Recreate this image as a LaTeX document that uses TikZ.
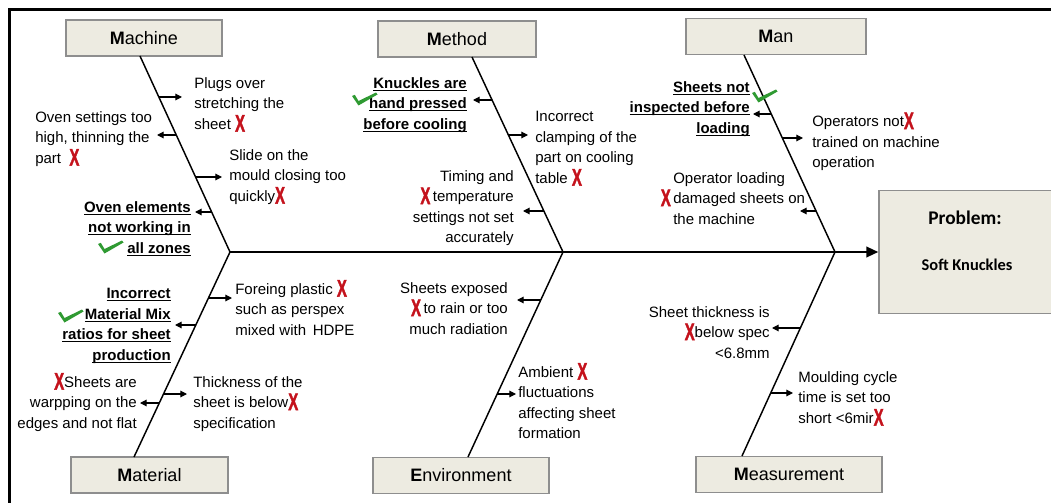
\documentclass[tikz,border=0pt]{standalone}
\usepackage{fontspec}
\setmainfont{Liberation Sans}
\newfontfamily\calfont{Carlito}
\newfontfamily\crossfont[FakeBold=2.2]{Liberation Sans}
\usepackage{graphicx}
\usetikzlibrary{arrows.meta,calc}

\definecolor{boxfill}{HTML}{EDEBE1}
\definecolor{boxline}{HTML}{8E8E8E}
\definecolor{crossred}{HTML}{C4121C}
\definecolor{tickgreen}{HTML}{2F9A32}

% red cross mark set inline with the text
\newcommand\nox{\raisebox{-1.8pt}{\smash{\textcolor{crossred}{\scalebox{0.62}[1]{\crossfont\fontsize{18pt}{18pt}\selectfont\bfseries X}}}}}
% underline at a fixed distance below the baseline
\newcommand\keyline[1]{\setbox0\hbox{#1}\rlap{\rule[-2pt]{\wd0}{0.95pt}}\box0}

\begin{document}
\begin{tikzpicture}[x=0.75pt,y=-0.75pt,
  catbox/.style={draw=boxline,fill=boxfill,line width=1.1pt,
    minimum width=#1*0.75pt,minimum height=27pt,inner sep=0pt,
    font=\fontsize{13.5pt}{16pt}\selectfont},
  causeL/.style={anchor=north west,align=left,inner sep=0pt,
    font=\fontsize{11.25pt}{15.4pt}\selectfont},
  causeR/.style={anchor=north east,align=right,inner sep=0pt,
    font=\fontsize{11.25pt}{15.4pt}\selectfont},
  keyR/.style={causeR,font=\fontsize{11.25pt}{15.4pt}\selectfont\bfseries},
  bone/.style={line width=1.1pt},
  spine/.style={line width=1.5pt,-{Triangle[length=9pt,width=8pt]}},
  cause/.style={line width=0.85pt,-{Triangle[length=5pt,width=5pt]}},
  greentick/.pic={\fill[tickgreen] (0,3) -- (2.8,1.8) -- (6.5,8) -- (24,-0.5) -- (25.5,1.5) -- (6.5,12.5) -- cycle;}
]
\useasboundingbox (0,0) rectangle (1051,503);

% outer frame
\draw[line width=2pt] (9.5,9.5) rectangle (1070,520);

% effect box
\node[draw=boxline,fill=boxfill,line width=1.1pt,minimum width={182*0.75pt},
  minimum height={123*0.75pt},inner sep=0pt] (problem) at (970,252) {};
\node[font=\calfont\bfseries\fontsize{14.5pt}{16pt}\selectfont,inner sep=0pt] (ptitle) at (965,218) {Problem:};
\node[font=\calfont\bfseries\fontsize{12.3pt}{14pt}\selectfont,inner sep=0pt] (pname) at (967,265) {Soft Knuckles};

% category boxes
\node[catbox=156] (machine) at (144,38) {\textbf{M}achine};
\node[catbox=158] (method) at (457,39) {\textbf{M}ethod};
\node[catbox=180] (man) at (776,36.5) {\textbf{M}an};
\node[catbox=157] (material) at (149.5,475) {\textbf{M}aterial};
\node[catbox=176] (environment) at (461,475.5) {\textbf{E}nvironment};
\node[catbox=186] (measurement) at (789,474.5) {\textbf{M}easurement};

% joints on the spine and feet of the bones
\coordinate (j1) at (230,252);
\coordinate (j2) at (563,252);
\coordinate (j3) at (835,252);
\coordinate (machineleg) at (140,56);
\coordinate (methodleg) at (472,57);
\coordinate (manleg) at (744,55);
\coordinate (materialleg) at (134,457);
\coordinate (environmentleg) at (468,457);
\coordinate (measurementleg) at (742,456);

\draw[spine] (j1) -- (problem.west);
\draw[bone] (machineleg) -- (j1);
\draw[bone] (methodleg) -- (j2);
\draw[bone] (manleg) -- (j3);
\draw[bone] (materialleg) -- (j1);
\draw[bone] (environmentleg) -- (j2);
\draw[bone] (measurementleg) -- (j3);

% ---- Machine ----
\node[causeL] (mc1) at (194,77) {Plugs over\\stretching the\\sheet \nox};
\node[causeL] (mc2) at (35,111) {Oven settings too\\high, thinning the\\part \ \nox};
\node[causeL] (mc3) at (229,149) {Slide on the\\mould closing too\\quickly\nox};
\node[keyR] (mc4) at (191,201) {\keyline{Oven elements}\\\keyline{not working in}\\\keyline{all zones}};
\coordinate (bm1) at (158.8,97);  \coordinate (am1) at (182,97);
\coordinate (bm2) at (176.3,135); \coordinate (am2) at (157,135);
\coordinate (bm3) at (195.6,177); \coordinate (am3) at (222,177);
\coordinate (bm4) at (211.6,212); \coordinate (am4) at (195,212);
\draw[cause] (bm1) -- (am1);
\draw[cause] (bm2) -- (am2);
\draw[cause] (bm3) -- (am3);
\draw[cause] (bm4) -- (am4);
\pic at (98,241) {greentick};

% ---- Method ----
\node[keyR] (me1) at (467,77) {\keyline{Knuckles are}\\\keyline{hand pressed}\\\keyline{before cooling}};
\node[causeL] (me2) at (535,111) {Incorrect\\clamping of the\\part on cooling\\table \nox};
\node[causeR] (me3) at (514,170) {Timing and\\\nox\,temperature\\settings not set\\accurately};
\coordinate (be1) at (492.1,100); \coordinate (ae1) at (473,100);
\coordinate (be2) at (508.4,135); \coordinate (ae2) at (528,135);
\coordinate (be3) at (543.9,211); \coordinate (ae3) at (523,211);
\draw[cause] (be1) -- (ae1);
\draw[cause] (be2) -- (ae2);
\draw[cause] (be3) -- (ae3);
\pic at (352,93) {greentick};

% ---- Man ----
\node[keyR] (mn1) at (750,81) {\keyline{Sheets not}\\\keyline{inspected before}\\\keyline{loading}};
\node[causeL] (mn2) at (812,116) {Operators not\nox\\trained on machine\\operation};
\node[causeL] (mn3) at (673,172) {Operator loading\\\llap{\nox\,}damaged sheets on\\the machine};
\coordinate (bn1) at (771.3,114); \coordinate (an1) at (753,114);
\coordinate (bn2) at (782.3,138); \coordinate (an2) at (803,138);
\coordinate (bn3) at (816,211);   \coordinate (an3) at (800,211);
\draw[cause] (bn1) -- (an1);
\draw[cause] (bn2) -- (an2);
\draw[cause] (bn3) -- (an3);
\pic at (752,90) {greentick};

% ---- Material ----
\node[causeL] (ma1) at (235,283) {Foreing plastic \nox\\such as perspex\\mixed with \,HDPE};
\node[keyR] (ma2) at (171,288) {\keyline{Incorrect}\\\keyline{Material Mix}\\\keyline{ratios for sheet}\\\keyline{production}};
\node[causeR] (ma3) at (137,376) {\nox Sheets are\\warpping on the\\edges and not flat};
\node[causeL] (ma4) at (193,376) {Thickness of the\\sheet is below\nox\\specification};
\coordinate (ba1) at (208.5,298); \coordinate (aa1) at (232,298);
\coordinate (ba2) at (195.8,325); \coordinate (aa2) at (175,325);
\coordinate (ba3) at (159.3,403); \coordinate (aa3) at (140,403);
\coordinate (ba4) at (163.5,394); \coordinate (aa4) at (187,394);
\draw[cause] (ba1) -- (aa1);
\draw[cause] (ba2) -- (aa2);
\draw[cause] (ba3) -- (aa3);
\draw[cause] (ba4) -- (aa4);
\pic at (58,310) {greentick};

% ---- Environment ----
\node[causeR] (en1) at (508,282) {Sheets exposed\\\nox\,to rain or too\\much radiation};
\node[causeL] (en2) at (518,366) {Ambient \nox\\fluctuations\\affecting sheet\\formation};
\coordinate (bv1) at (540.8,300); \coordinate (av1) at (517,300);
\coordinate (bv2) at (497.2,394); \coordinate (av2) at (516,394);
\draw[cause] (bv1) -- (av1);
\draw[cause] (bv2) -- (av2);

% ---- Measurement ----
\node[causeR] (ms1) at (770,306) {Sheet thickness is\\\nox below spec\\<6.8mm};
\node[causeL] (ms2) at (798,371) {Moulding cycle\\time is set too\\short <6mir\nox};
\coordinate (bs1) at (800.4,328); \coordinate (as1) at (772,328);
\coordinate (bs2) at (770.7,393); \coordinate (as2) at (793,393);
\draw[cause] (bs1) -- (as1);
\draw[cause] (bs2) -- (as2);
\end{tikzpicture}
\end{document}
